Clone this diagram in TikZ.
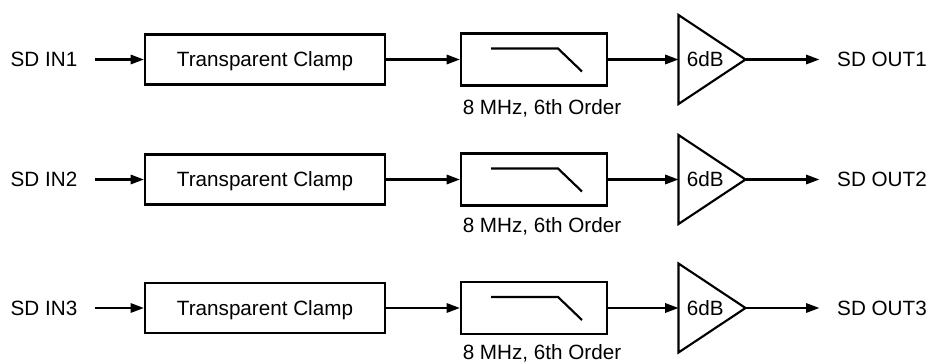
\documentclass[tikz,border=0pt]{standalone}
\usepackage{fontspec}
\setmainfont{Liberation Sans}
\usetikzlibrary{arrows.meta}

\tikzset{every picture/.style={line width=0.75pt}}
\tikzset{
  io/.style={inner xsep=13pt, inner ysep=0pt, font=\fontsize{15.5}{18}\selectfont},
  clampbox/.style={draw, line width=1.6pt, minimum width=180pt, minimum height=37.5pt, inner sep=0pt, text depth=0pt, font=\fontsize{15.5}{18}\selectfont},
  lpfbox/.style={draw, line width=1.6pt, minimum width=109.5pt, minimum height=39pt, inner sep=0pt},
  ampbox/.style={minimum width=49.5pt, minimum height=66pt, inner sep=0pt},
  gaintext/.style={inner sep=0pt, text depth=0pt, font=\fontsize{15.5}{18}\selectfont},
  note/.style={anchor=base, inner sep=0pt, font=\fontsize{15.5}{18}\selectfont},
  sig/.style={line width=1.6pt, -{Triangle[length=10pt,width=7pt]}},
  wire/.style={line width=1.6pt}
}

\begin{document}
\begin{tikzpicture}[x=0.75pt,y=0.75pt,yscale=-1,xscale=1]
\useasboundingbox (0,0) rectangle (932,364);

%Row 1
% Text Node
\node[io] (in1) at (44,59.5) {SD IN1};
%Shape: Rectangle
\node[clampbox] (clamp1) at (265,59.5) {Transparent Clamp};
%Shape: Rectangle
\node[lpfbox] (lpf1) at (534,59.5) {};
\draw[wire] ([shift={(-43,-11)}]lpf1.center) -- ([shift={(24,-11)}]lpf1.center) -- ([shift={(48,12)}]lpf1.center);
% Text Node
\node[note] (ord1) at ([shift={(8,28)}]lpf1.south) {8 MHz, 6th Order};
%Shape: Triangle
\node[ampbox] (amp1) at (712,59.5) {};
\draw[wire, line join=miter] (amp1.north west) -- (amp1.east) -- (amp1.south west) -- cycle;
\node[gaintext] (gain1) at ([xshift=-5]amp1.center) {6dB};
% Text Node
\node[io] (out1) at (882,59.5) {SD OUT1};
%Straight Lines
\draw[sig] (in1) -- (clamp1);
\draw[sig] (clamp1) -- (lpf1);
\draw[sig] (lpf1) -- (amp1);
\draw[sig] (amp1.east) -- (out1);

%Row 2
% Text Node
\node[io] (in2) at (44,179.5) {SD IN2};
%Shape: Rectangle
\node[clampbox] (clamp2) at (265,179.5) {Transparent Clamp};
%Shape: Rectangle
\node[lpfbox] (lpf2) at (534,179.5) {};
\draw[wire] ([shift={(-43,-11)}]lpf2.center) -- ([shift={(24,-11)}]lpf2.center) -- ([shift={(48,12)}]lpf2.center);
% Text Node
\node[note] (ord2) at ([shift={(8,26)}]lpf2.south) {8 MHz, 6th Order};
%Shape: Triangle
\node[ampbox] (amp2) at (712,179.5) {};
\draw[wire, line join=miter] (amp2.north west) -- (amp2.east) -- (amp2.south west) -- cycle;
\node[gaintext] (gain2) at ([xshift=-5]amp2.center) {6dB};
% Text Node
\node[io] (out2) at (882,179.5) {SD OUT2};
%Straight Lines
\draw[sig] (in2) -- (clamp2);
\draw[sig] (clamp2) -- (lpf2);
\draw[sig] (lpf2) -- (amp2);
\draw[sig] (amp2.east) -- (out2);

%Row 3
% Text Node
\node[io] (in3) at (44,308) {SD IN3};
%Shape: Rectangle
\node[clampbox] (clamp3) at (265,308) {Transparent Clamp};
%Shape: Rectangle
\node[lpfbox] (lpf3) at (534,308) {};
\draw[wire] ([shift={(-43,-11)}]lpf3.center) -- ([shift={(24,-11)}]lpf3.center) -- ([shift={(48,12)}]lpf3.center);
% Text Node
\node[note] (ord3) at ([shift={(8,24.5)}]lpf3.south) {8 MHz, 6th Order};
%Shape: Triangle
\node[ampbox] (amp3) at (712,308) {};
\draw[wire, line join=miter] (amp3.north west) -- (amp3.east) -- (amp3.south west) -- cycle;
\node[gaintext] (gain3) at ([xshift=-5]amp3.center) {6dB};
% Text Node
\node[io] (out3) at (882,308) {SD OUT3};
%Straight Lines
\draw[sig] (in3) -- (clamp3);
\draw[sig] (clamp3) -- (lpf3);
\draw[sig] (lpf3) -- (amp3);
\draw[sig] (amp3.east) -- (out3);

\end{tikzpicture}
\end{document}
